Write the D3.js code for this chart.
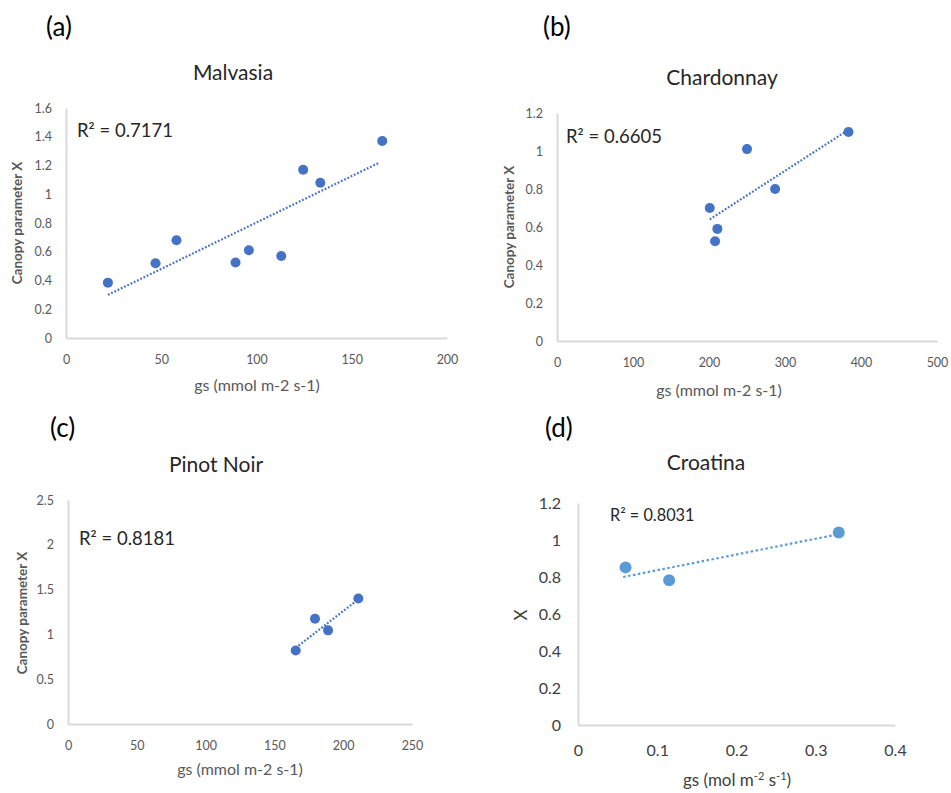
<html>
<script src='https://d3js.org/d3.v7.min.js'></script>
<style>
body {margin: 0; background: #fff;}
text {font-family: Lato, 'Open Sans', sans-serif;}
</style>
<body onload='init()'>
<svg width=951 height=793></svg>
<script>
// Malvasia
var malvX = [22, 47, 58, 89, 96, 113, 124.5, 133.5, 166];
var malvY = [0.385, 0.52, 0.68, 0.525, 0.61, 0.57, 1.17, 1.08, 1.37];
var malvTrendX = [22, 164.5];
var malvTrendY = [0.30, 1.22];
// Chardonnay
var chardX = [201, 211, 208, 250, 287, 383.5];
var chardY = [0.70, 0.59, 0.525, 1.01, 0.80, 1.10];
var chardTrendX = [201, 381];
var chardTrendY = [0.64, 1.105];
// Pinot Noir
var pinotX = [165.5, 179.5, 189, 211];
var pinotY = [0.82, 1.175, 1.045, 1.40];
var pinotTrendX = [165.5, 210.5];
var pinotTrendY = [0.85, 1.385];
// Croatina
var croatX = [0.060, 0.115, 0.329];
var croatY = [0.852, 0.782, 1.041];
var croatTrendX = [0.057, 0.326];
var croatTrendY = [0.80, 1.029];

var malvTicksX = [0, 50, 100, 150, 200], malvTicksY = [0, 0.2, 0.4, 0.6, 0.8, 1, 1.2, 1.4, 1.6];
var chardTicksX = [0, 100, 200, 300, 400, 500], chardTicksY = [0, 0.2, 0.4, 0.6, 0.8, 1, 1.2];
var pinotTicksX = [0, 50, 100, 150, 200, 250], pinotTicksY = [0, 0.5, 1, 1.5, 2, 2.5];
var croatTicksX = [0, 0.1, 0.2, 0.3, 0.4], croatTicksY = [0, 0.2, 0.4, 0.6, 0.8, 1, 1.2];

function init() {
    var svg = d3.select("svg");
    var panels = [
        {tag: "(a)", tagX: 46, tagY: 36, title: "Malvasia", titleX: 233, titleY: 80,
         xs: malvX, ys: malvY, tx: malvTrendX, ty: malvTrendY, ticksX: malvTicksX, ticksY: malvTicksY,
         left: 66, right: 447, top: 108, bottom: 338,
         r2: "R\u00b2 = 0.7171", r2X: 77, r2Y: 137, r2Size: 18.5,
         xLabel: "gs (mmol m-2 s-1)", xLabelX: 257, xLabelY: 391, yLabel: "Canopy parameter X", yLabelX: 22, yLabelY: 223,
         color: "#4472c4", r: 5, tickSize: 12.5, tickColor: "#595959", big: false},
        {tag: "(b)", tagX: 543, tagY: 36, title: "Chardonnay", titleX: 722, titleY: 85,
         xs: chardX, ys: chardY, tx: chardTrendX, ty: chardTrendY, ticksX: chardTicksX, ticksY: chardTicksY,
         left: 557, right: 937, top: 113, bottom: 341,
         r2: "R\u00b2 = 0.6605", r2X: 566, r2Y: 143, r2Size: 18.5,
         xLabel: "gs (mmol m-2 s-1)", xLabelX: 719, xLabelY: 396, yLabel: "Canopy parameter X", yLabelX: 514, yLabelY: 227,
         color: "#4472c4", r: 5, tickSize: 12.5, tickColor: "#595959", big: false},
        {tag: "(c)", tagX: 50, tagY: 437, title: "Pinot Noir", titleX: 216, titleY: 472,
         xs: pinotX, ys: pinotY, tx: pinotTrendX, ty: pinotTrendY, ticksX: pinotTicksX, ticksY: pinotTicksY,
         left: 68, right: 412, top: 500, bottom: 724,
         r2: "R\u00b2 = 0.8181", r2X: 79, r2Y: 545, r2Size: 18.5,
         xLabel: "gs (mmol m-2 s-1)", xLabelX: 240, xLabelY: 775, yLabel: "Canopy parameter X", yLabelX: 27, yLabelY: 613,
         color: "#4472c4", r: 5, tickSize: 12.5, tickColor: "#595959", big: false},
        {tag: "(d)", tagX: 545, tagY: 437, title: "Croatina", titleX: 706, titleY: 470,
         xs: croatX, ys: croatY, tx: croatTrendX, ty: croatTrendY, ticksX: croatTicksX, ticksY: croatTicksY,
         left: 578, right: 895, top: 503, bottom: 725,
         r2: "R\u00b2 = 0.8031", r2X: 610, r2Y: 521, r2Size: 16.3,
         xLabel: null, xLabelX: 737, xLabelY: 786, yLabel: "X", yLabelX: 527, yLabelY: 615,
         color: "#5b9bd5", r: 6, tickSize: 16, tickColor: "#404040", big: true}
    ];

    panels.forEach(function(p) {
        var x = d3.scaleLinear().domain([p.ticksX[0], p.ticksX[p.ticksX.length-1]]).range([p.left, p.right]);
        var y = d3.scaleLinear().domain([p.ticksY[0], p.ticksY[p.ticksY.length-1]]).range([p.bottom, p.top]);
        var g = svg.append("g");

        g.append("text").attr("x", p.tagX).attr("y", p.tagY).attr("font-size", 26).attr("fill", "#000")
            .attr("font-family", "'Open Sans', sans-serif").text(p.tag);
        g.append("text").attr("x", p.titleX).attr("y", p.titleY).attr("text-anchor", "middle")
            .attr("font-size", 21).attr("fill", "#262626").text(p.title);

        var ax = g.append("g").attr("transform", "translate(0," + p.bottom + ")")
            .call(d3.axisBottom(x).tickValues(p.ticksX).tickSize(0).tickPadding(p.big ? 20 : 17).tickFormat(d3.format("~g")));
        var ay = g.append("g").attr("transform", "translate(" + p.left + ",0)")
            .call(d3.axisLeft(y).tickValues(p.ticksY).tickSize(0).tickPadding(p.big ? 17 : 14).tickFormat(d3.format("~g")));
        [ax, ay].forEach(function(a) {
            a.select(".domain").attr("stroke", "#d9d9d9").attr("stroke-width", 2);
            a.selectAll("text").attr("font-size", p.tickSize).attr("fill", p.tickColor).attr("font-family", "Lato, sans-serif");
        });

        g.append("line")
            .attr("x1", x(p.tx[0])).attr("y1", y(p.ty[0]))
            .attr("x2", x(p.tx[1])).attr("y2", y(p.ty[1]))
            .attr("stroke", p.color).attr("stroke-width", 2.2)
            .attr("stroke-dasharray", p.big ? "2.5,2.5" : "1.8,1.8");

        g.selectAll("circle.pt").data(p.xs).enter().append("circle")
            .attr("cx", function(d) { return x(d); })
            .attr("cy", function(d, i) { return y(p.ys[i]); })
            .attr("r", p.r).attr("fill", p.color);

        g.append("text").attr("x", p.r2X).attr("y", p.r2Y).attr("font-size", p.r2Size).attr("fill", "#262626").text(p.r2);

        if (p.xLabel) {
            g.append("text").attr("x", p.xLabelX).attr("y", p.xLabelY).attr("text-anchor", "middle")
                .attr("font-size", 16).attr("fill", "#595959").text(p.xLabel);
        } else {
            var t = g.append("text").attr("x", p.xLabelX).attr("y", p.xLabelY).attr("text-anchor", "middle")
                .attr("font-size", 17).attr("fill", "#404040");
            t.append("tspan").text("gs (mol m");
            t.append("tspan").attr("dy", -6).attr("font-size", 11).text("-2");
            t.append("tspan").attr("dy", 6).text(" s");
            t.append("tspan").attr("dy", -6).attr("font-size", 11).text("-1");
            t.append("tspan").attr("dy", 6).text(")");
        }
        g.append("text").attr("transform", "translate(" + p.yLabelX + "," + p.yLabelY + ") rotate(-90)")
            .attr("text-anchor", "middle").attr("font-size", p.big ? 17 : 13.5)
            .attr("font-weight", p.big ? "normal" : "bold")
            .attr("fill", p.big ? "#404040" : "#595959").text(p.yLabel);
    });
}
</script>
</body>
</html>
